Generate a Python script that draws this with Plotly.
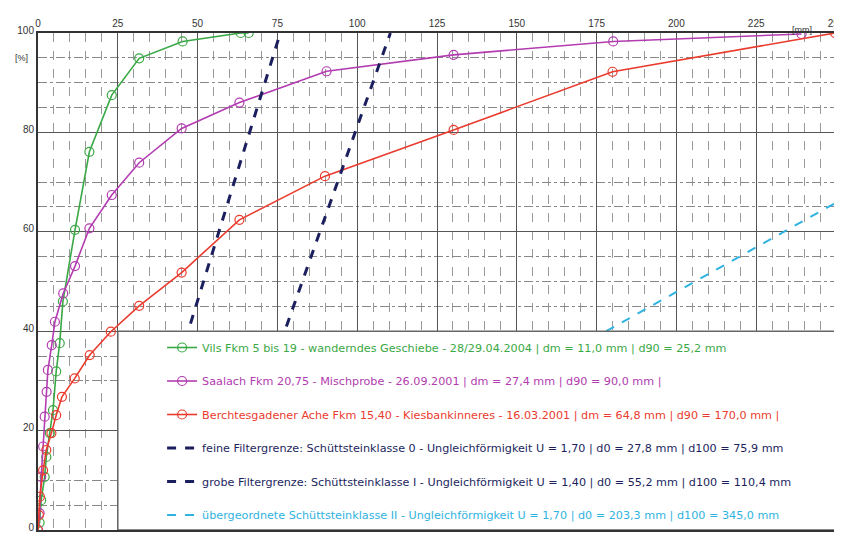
import plotly.graph_objects as go

# ---- data ----
green_x = [0, 0.5, 1.0, 2.1, 2.6, 3.7, 4.7, 5.7, 6.8, 7.8, 11.6, 16.1, 23.1, 31.7, 45.3, 63.5, 66.0]
green_y = [0, 1.5, 6.0, 10.7, 14.7, 19.5, 24.1, 31.9, 37.6, 46.0, 60.4, 76.1, 87.5, 94.9, 98.3, 100, 100]

mag_x = [0, 0.5, 1.0, 1.6, 2.1, 2.7, 3.1, 4.3, 5.3, 7.9, 11.6, 16.1, 23.1, 31.7, 45.0, 63.1, 90.4, 130.2, 180.2, 239.2]
mag_y = [0, 3.4, 10.7, 16.8, 22.8, 27.8, 32.2, 37.2, 41.9, 47.6, 53.1, 60.7, 67.4, 73.9, 80.8, 86.0, 92.3, 95.6, 98.3, 99.8]

red_x = [0, 0.3, 0.6, 1.6, 2.6, 4.2, 5.7, 7.5, 11.5, 16.2, 22.8, 31.7, 45.0, 63.1, 89.9, 130.2, 180.0, 249.7]
red_y = [0, 3.0, 6.7, 12.0, 16.1, 19.5, 23.1, 26.8, 30.5, 35.2, 39.9, 45.1, 51.8, 62.4, 71.2, 80.5, 92.2, 100]

fine_x = [27.8, 75.9]
fine_y = [0, 100]
coarse_x = [55.2, 110.4]
coarse_y = [0, 100]
cyan_x = [178.0, 345.0]
cyan_y = [40, 100]

x_ticks = [0, 25, 50, 75, 100, 125, 150, 175, 200, 225, 250]
y_ticks = [0, 20, 40, 60, 80, 100]
y_minor = [5, 10, 30, 35, 45, 50, 55, 65, 70, 85, 90, 95]

names = [
    "Vils Fkm 5 bis 19 - wanderndes Geschiebe - 28/29.04.2004 | dm = 11,0 mm | d90 = 25,2 mm",
    "Saalach Fkm 20,75 - Mischprobe - 26.09.2001 | dm = 27,4 mm | d90 = 90,0 mm |",
    "Berchtesgadener Ache Fkm 15,40 - Kiesbankinneres - 16.03.2001 | dm = 64,8 mm | d90 = 170,0 mm |",
    "feine Filtergrenze: Schüttsteinklasse 0 - Ungleichförmigkeit U = 1,70 | d0 = 27,8 mm | d100 = 75,9 mm",
    "grobe Filtergrenze: Schüttsteinklasse I - Ungleichförmigkeit U = 1,40 | d0 = 55,2 mm | d100 = 110,4 mm",
    "übergeordnete Schüttsteinklasse II - Ungleichförmigkeit U = 1,70 | d0 = 203,3 mm | d100 = 345,0 mm",
]

GREEN = "#3aa845"
MAG = "#b23cb0"
RED = "#ea3b2e"
NAVY = "#1c1f5e"
CYAN = "#2fb3e0"
colors = [GREEN, MAG, RED, NAVY, NAVY, CYAN]
FONT = "DejaVu Sans, Liberation Sans, Arial"

fig = go.Figure()

def label(i):
    return f"<span style='color:{colors[i]}'>{names[i]}</span>"

for i, (xs, ys) in enumerate([(green_x, green_y), (mag_x, mag_y), (red_x, red_y)]):
    fig.add_trace(go.Scatter(
        x=xs, y=ys, mode="lines+markers", name=label(i), legendgroup=str(i),
        line=dict(color=colors[i], width=1.6),
        marker=dict(symbol="circle-open", size=9, color=colors[i], line=dict(width=1.2)),
    ))

fig.add_trace(go.Scatter(x=fine_x, y=fine_y, mode="lines", name=label(3), legendgroup="3",
                         line=dict(color=NAVY, width=3, dash="dash")))
fig.add_trace(go.Scatter(x=coarse_x, y=coarse_y, mode="lines", name=label(4), legendgroup="4",
                         line=dict(color=NAVY, width=3, dash="dash")))
fig.add_trace(go.Scatter(x=cyan_x, y=cyan_y, mode="lines", name=label(5), legendgroup="5",
                         line=dict(color=CYAN, width=2, dash="dash")))

# white legend box covering lower part of the plot
fig.add_shape(type="rect", xref="x", yref="y", x0=25, x1=250, y0=0, y1=40,
              fillcolor="white", line=dict(color="#666", width=1.5), layer="above")

fig.update_xaxes(
    range=[0, 250], side="top", tickvals=x_ticks, ticktext=[str(v) for v in x_ticks],
    showgrid=True, gridcolor="#555", gridwidth=1.3,
    minor=dict(dtick=5, showgrid=True, gridcolor="#999", griddash="dash", gridwidth=1),
    showline=True, linecolor="#333", linewidth=2, mirror=True,
    ticks="", tickfont=dict(family="Liberation Sans, Arial", size=10, color="#333"),
    zeroline=False, fixedrange=True, automargin=False, ticklabeloverflow="allow",
)
fig.update_yaxes(
    range=[0, 100], tickvals=y_ticks, ticktext=[str(v) for v in y_ticks],
    showgrid=True, gridcolor="#555", gridwidth=1.3,
    minor=dict(tickmode="array", tickvals=y_minor, showgrid=True, gridcolor="#888",
               griddash="dashdot", gridwidth=1),
    showline=True, linecolor="#333", linewidth=2, mirror=True,
    ticks="", tickfont=dict(family="Liberation Sans, Arial", size=10, color="#333"),
    zeroline=False, fixedrange=True, automargin=False, ticklabeloverflow="allow",
    ticklabelshift=-3,
)

fig.add_annotation(text="[mm]", xref="x", yref="paper", x=239.5, y=1.0, yshift=10,
                   showarrow=False, font=dict(family="Liberation Sans, Arial", size=9, color="#333"))
fig.add_annotation(text="[%]", xref="paper", yref="y", x=0, xanchor="right", xshift=-8, y=95,
                   showarrow=False, font=dict(family="Liberation Sans, Arial", size=9, color="#333"))

# page body has an 8px default margin, so the figure is sized to fit the window
fig.update_layout(
    width=834, height=525,
    margin=dict(l=30, r=6, t=25, b=3),
    paper_bgcolor="white", plot_bgcolor="white",
    font=dict(family=FONT, size=11.2),
    legend=dict(x=0.1555, y=0.0, xanchor="left", yanchor="bottom",
                bgcolor="rgba(0,0,0,0)", borderwidth=0,
                traceorder="grouped", tracegroupgap=14.5, itemwidth=30,
                font=dict(family=FONT, size=11.2)),
    showlegend=True,
)

fig.write_html("out.html")
